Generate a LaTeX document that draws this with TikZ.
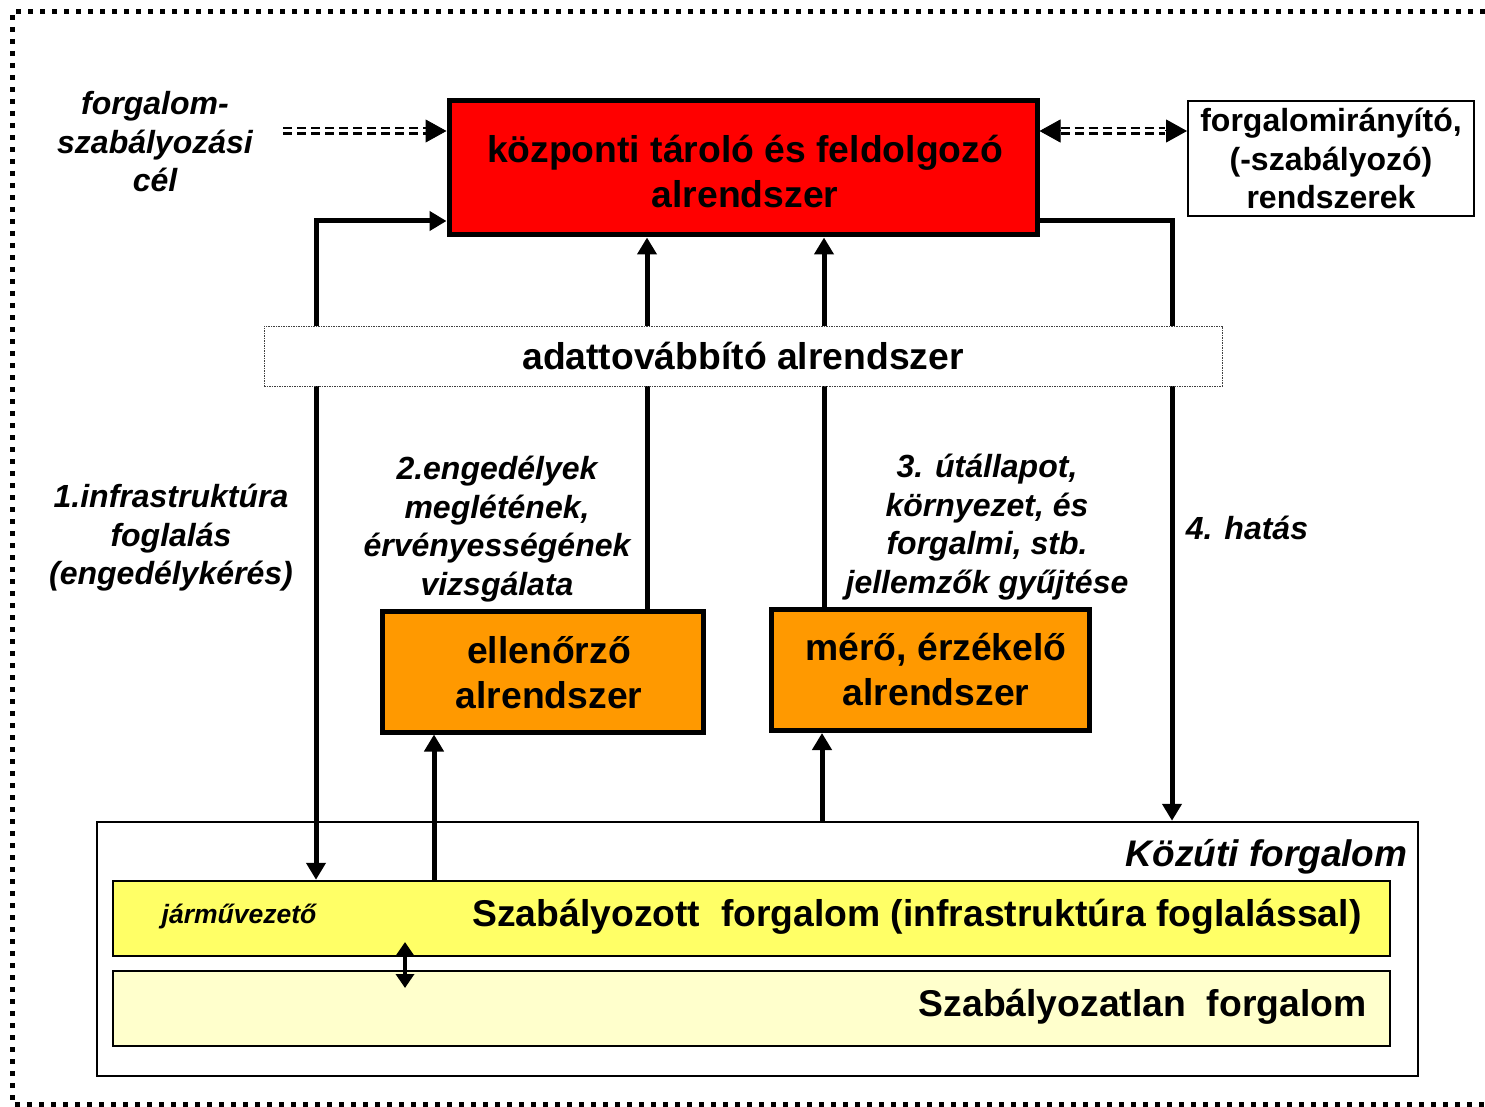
\documentclass[tikz,border=0pt]{standalone}
\usepackage{fontspec}
\setmainfont{Liberation Sans}
\usetikzlibrary{arrows.meta,calc}
\definecolor{cred}{HTML}{FF0000}
\definecolor{corange}{HTML}{FF9900}
\definecolor{cyel}{HTML}{FFFF66}
\definecolor{clyel}{HTML}{FFFFCC}
\tikzset{
  bigtxt/.style={font=\fontsize{37.3}{45}\selectfont\bfseries, align=center},
  midtxt/.style={font=\fontsize{32}{38.5}\selectfont\bfseries, align=center},
  lbl/.style={font=\fontsize{32}{38.5}\selectfont\bfseries\itshape, align=center},
  redbox/.style={draw, line width=5pt, fill=cred, minimum width=588pt, minimum height=134pt, inner sep=0pt},
  ctrlbox/.style={draw, line width=2pt, fill=white, minimum width=286pt, minimum height=115pt, inner sep=0pt, midtxt},
  databox/.style={draw=black!75, line width=1pt, dash pattern=on 1.5pt off 1pt, fill=white, minimum width=958pt, minimum height=60pt, inner sep=0pt, bigtxt},
  orbox/.style={draw, line width=5pt, fill=corange, minimum height=121pt, inner sep=0pt},
  kozbox/.style={draw, line width=2.5pt, minimum width=1321pt, minimum height=254pt, inner sep=0pt},
  lane/.style={draw, line width=2.5pt, minimum width=1277pt, minimum height=75pt, inner sep=0pt},
  conn/.style={line width=5pt},
  bigtip/.style={-{Triangle[length=17pt,width=19pt]}},
  dbl/.style={line width=2.2pt, double distance=3pt, dash pattern=on 9pt off 5pt},
  dtip/.style={line width=1pt, -{Triangle[length=21pt,width=23pt]}},
  frame/.style={line width=5pt, dash pattern=on 5pt off 7pt}
}
\begin{document}
\begin{tikzpicture}[x=1pt,y=-1pt]
\useasboundingbox (0,0) rectangle (1485,1107);
\fill[white] (0,0) rectangle (1485,1107);
\draw[frame] (1485,12) -- (12,12) -- (12,1104) -- (1485,1104);

% boxes
\node[redbox] (red) at (743,168) {};
\node[bigtxt] (redt) at (745,172) {központi tároló és feldolgozó\\alrendszer};
\node[ctrlbox] (ctrl) at (1331,158.5) {forgalomirányító,\\(-szabályozó)\\rendszerek};
\node[orbox, minimum width=321pt] (ell) at (542.5,671.5) {};
\node[bigtxt] (ellt) at (549,673) {ellenőrző\\alrendszer};
\node[orbox, minimum width=318pt] (mero) at (930,670) {};
\node[bigtxt] (merot) at (936,669) {mérő, érzékelő\\alrendszer};
\node[kozbox] (koz) at (757.5,949) {};
\node[lane, fill=cyel] (yel) at (751.5,918.5) {};
\node[lane, fill=clyel] (lyel) at (751.5,1008.5) {};

% texts
\node[bigtxt, font=\fontsize{37}{45}\selectfont\bfseries\itshape, anchor=east] (kozt) at (1411,857) {Közúti forgalom};
\node[bigtxt, anchor=east] (szab) at (1365,917) {Szabályozott\ \ forgalom (infrastruktúra foglalással)};
\node[bigtxt, anchor=east] (szabt) at (1370,1007) {Szabályozatlan\ \ forgalom};
\node[font=\fontsize{26.5}{30}\selectfont\bfseries\itshape] (jarmu) at (239,917) {járművezető};
\node[lbl] (goal) at (155,142) {forgalom-\\szabályozási\\cél};
\node[lbl] (l1) at (171,538) {1.infrastruktúra\\foglalás\\(engedélykérés)};
\node[lbl] (l2) at (497,529) {2.engedélyek\\meglétének,\\érvényességének\\vizsgálata};
\node[lbl] (l3) at (987,527) {3. útállapot,\\környezet, és\\forgalmi, stb.\\jellemzők gyűjtése};
\node[lbl] (l4) at (1247,528) {4. hatás};

% solid connectors
\draw[conn, {Triangle[length=17pt,width=19pt]}-{Triangle[length=17pt,width=19pt]}]
  (316,0 |- yel.north) -- (316,221) -- (red.west |- 0,221);
\draw[conn, bigtip] (647,0 |- ell.north) -- (647,0 |- red.south);
\draw[conn, bigtip] (824,0 |- mero.north) -- (824,0 |- red.south);
\draw[conn, bigtip] (434,0 |- yel.north) -- (434,0 |- ell.south);
\draw[conn, bigtip] (822,0 |- koz.north) -- (822,0 |- mero.south);
\draw[conn, bigtip] (red.east |- 0,221) -| (1172,0 |- koz.north);

% double arrow between lanes
\coordinate (d1) at (405,942);
\coordinate (d2) at (405,988);
\draw[line width=4.5pt, {Triangle[length=14pt,width=18pt]}-{Triangle[length=14pt,width=18pt]}] (d1) -- (d2);

% dashed connectors
\coordinate (gs) at (283,131);
\draw[dbl] (gs) -- ($(red.west |- 0,131)+(-21,0)$);
\draw[dtip] ($(red.west |- 0,131)+(-21,0)$) -- (red.west |- 0,131);
\draw[dbl] ($(red.east |- 0,131)+(21,0)$) -- ($(ctrl.west |- 0,131)+(-22,0)$);
\draw[dtip] ($(red.east |- 0,131)+(21,0)$) -- (red.east |- 0,131);
\draw[dtip] ($(ctrl.west |- 0,131)+(-22,0)$) -- (ctrl.west |- 0,131);

% data transfer box on top of lines
\node[databox] (data) at (743,356) {adattovábbító alrendszer};
\end{tikzpicture}
\end{document}
